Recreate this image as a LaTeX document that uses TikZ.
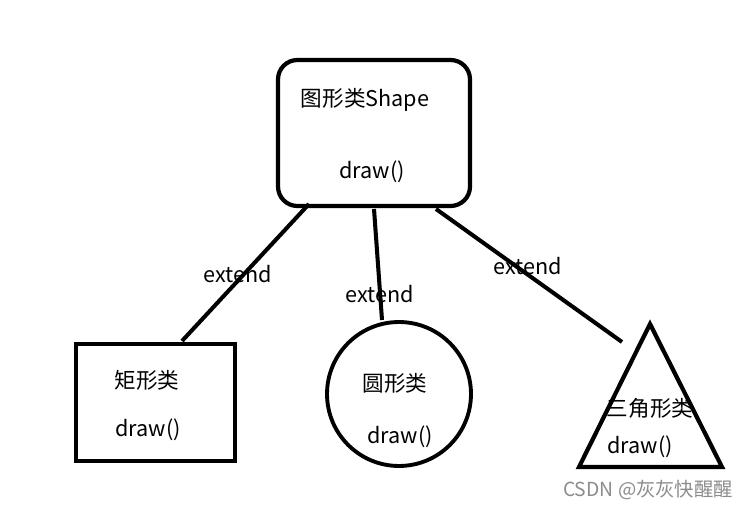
\documentclass[tikz,border=0pt]{standalone}
\usepackage{fontspec}
\setmainfont{Noto Sans CJK SC}
\begin{document}
\begin{tikzpicture}[
    x=0.02cm, y=-0.02cm,
    every node/.style={font=\fontsize{12.3}{14}\selectfont},
    classbox/.style={rectangle, draw=black, line width=2.4pt, rounded corners=11pt, minimum width=3.84cm, minimum height=2.92cm},
    rectbox/.style={rectangle, draw=black, line width=2.4pt, minimum width=3.18cm, minimum height=2.34cm},
    circbox/.style={circle, draw=black, line width=2.2pt, minimum size=2.88cm},
    trishape/.style={draw=black, line width=2.4pt, line join=miter},
    extline/.style={draw=black, line width=2.3pt},
    txt/.style={inner sep=0pt},
    mark label/.style={inner sep=0pt, text=black!45, font=\fontsize{11}{12}\selectfont}
]
\useasboundingbox (0,0) rectangle (749,509);

% ==================== PARENT CLASS ====================
\node[classbox] (shapebox) at (374, 133) {};
\node[txt] (shapename) at (365, 100) {图形类Shape};
\node[txt] (shapedraw) at (372, 172) {draw()};

% ==================== SUB CLASSES ====================
\node[rectbox] (rectbox) at (155.5, 402.5) {};
\node[txt] (rectname) at (147, 380) {矩形类};
\node[txt] (rectdraw) at (148, 430) {draw()};

\node[circbox] (circbox) at (399, 394) {};
\node[txt] (circname) at (395, 383) {圆形类};
\node[txt] (circdraw) at (400, 437) {draw()};

\coordinate (triapex) at (650, 324);
\coordinate (trileft) at (579, 467);
\coordinate (triright) at (722, 467);
\draw[trishape] (triapex) -- (trileft) -- (triright) -- cycle;
\node[txt] (triname) at (650, 408) {三角形类};
\node[txt] (tridraw) at (640, 447) {draw()};

% ==================== EXTEND LINKS ====================
\coordinate (ext1a) at (309, 204);
\coordinate (ext1b) at (182, 341);
\coordinate (ext2a) at (374, 209);
\coordinate (ext2b) at (382, 320);
\coordinate (ext3a) at (436, 209);
\coordinate (ext3b) at (622, 342);
\draw[extline] (ext1a) -- (ext1b);
\draw[extline] (ext2a) -- (ext2b);
\draw[extline] (ext3a) -- (ext3b);

\node[txt] (ext1) at (238, 274) {extend};
\node[txt] (ext2) at (380, 294) {extend};
\node[txt] (ext3) at (528, 266) {extend};

% watermark
\node[mark label] (mark) at (648, 490) {CSDN @灰灰快醒醒};

\end{tikzpicture}
\end{document}
